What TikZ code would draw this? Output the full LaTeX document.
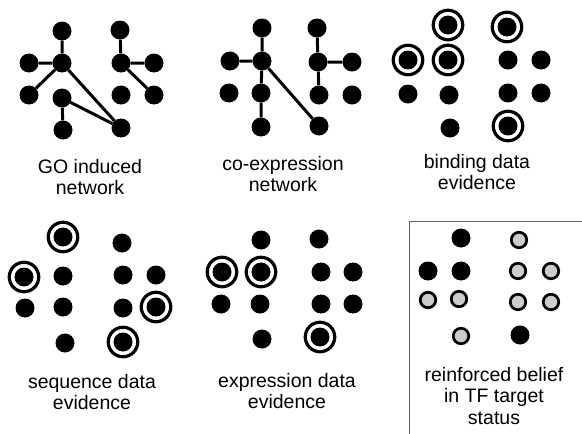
\documentclass[tikz,border=0pt]{standalone}
\usepackage{fontspec}
\setmainfont{Liberation Sans}
\usetikzlibrary{positioning}

\begin{document}
\begin{tikzpicture}[x=1pt,y=-1pt,
    dot/.style={circle,fill=black,inner sep=0pt,minimum size=19pt},
    ring/.style={circle,draw=black,line width=3.2pt,inner sep=0pt,minimum size=29.5pt},
    greydot/.style={circle,fill=black!20,draw=black,line width=2.7pt,inner sep=0pt,minimum size=15.5pt},
    link/.style={line width=3pt},
    caption/.style={align=center,font=\fontsize{19.5}{21.5}\selectfont}]
      \useasboundingbox (0,0) rectangle (582,434);
      % GO induced network
      \foreach \n/\x/\y in {a/62/31,b/62/63,c/29/63,d/29/95,e/62/98,f/63/130,
                            g/121/128,h/120/30,i/121/63,j/154/63,k/121/95,l/154/95}
        { \node[dot] (go\n) at (\x,\y) {}; }
      \draw[link] (goa) -- (gob) (goc) -- (gob) (gob) -- (god) (gob) -- (gog)
                  (goe) -- (gog) (goe) -- (gof) (goh) -- (goi) (goi) -- (goj) (goi) -- (gol);
      \node[caption] (golabel) at (90,177) {GO induced\\network};
      % co-expression network
      \foreach \n/\x/\y in {a/262/28,b/262/61,c/230/61,d/229/93,e/261/93,f/261/127,
                            g/319/126,h/317/28,i/318/62,j/352/62,k/319/95,l/352/95}
        { \node[dot] (co\n) at (\x,\y) {}; }
      \draw[link] (coa) -- (cob) (coc) -- (cob) (cob) -- (coe) (coe) -- (cof)
                  (cob) -- (cog) (coh) -- (coi) (coi) -- (coj) (coi) -- (cok);
      \node[caption] (colabel) at (283,174) {co-expression\\network};
      % binding data evidence
      \foreach \n/\x/\y in {a/448/25,b/448/60,c/408/60,d/408/94,e/449/95,f/450/128,
                            g/508/126,h/507/27,i/508/60,j/541/60,k/508/93,l/541/93}
        { \node[dot] (bd\n) at (\x,\y) {}; }
      \foreach \n in {a,b,c,g,h} { \node[ring] (bdr\n) at (bd\n) {}; }
      \node[caption] (bdlabel) at (477,172) {binding data\\evidence};
      % sequence data evidence
      \foreach \n/\x/\y in {a/63/237,b/63/276,c/24/277,d/25/308,e/63/307,f/65/343,
                            g/123/342,h/122/243,i/123/275,j/156/275,k/123/308,l/156/307}
        { \node[dot] (sq\n) at (\x,\y) {}; }
      \foreach \n in {a,c,g,l} { \node[ring] (sqr\n) at (sq\n) {}; }
      \node[caption] (sqlabel) at (92,392) {sequence data\\evidence};
      % expression data evidence
      \foreach \n/\x/\y in {a/261/240,b/261/272,c/222/272,d/221/304,e/260/304,f/262/339,
                            g/320/337,h/319/239,i/321/272,j/353/272,k/321/304,l/353/304}
        { \node[dot] (ex\n) at (\x,\y) {}; }
      \foreach \n in {b,c,g} { \node[ring] (exr\n) at (ex\n) {}; }
      \node[caption] (exlabel) at (287,391) {expression data\\evidence};
      % reinforced belief
      \draw[black!60,line width=1pt] (582,221) -- (409,221) -- (409,434);
      \foreach \n/\x/\y in {a/461/238,b/461/271,c/428/271,g/520/335}
        { \node[dot] (tf\n) at (\x,\y) {}; }
      \foreach \n/\x/\y in {d/428/300,e/459/299,f/461/336,h/519/240,i/518/271,
                            j/551/271,k/518/302,l/551/302}
        { \node[greydot] (tf\n) at (\x,\y) {}; }
      \node[caption] (tflabel) at (494,396) {reinforced belief\\in TF target\\status};
    \end{tikzpicture}
\end{document}
